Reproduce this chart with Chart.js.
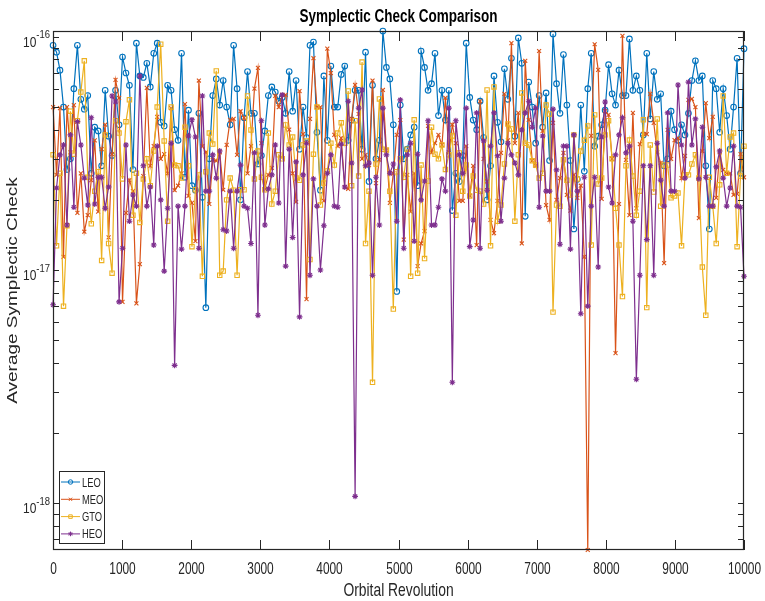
<!DOCTYPE html>
<html>
<head>
<meta charset="utf-8">
<title>Symplectic Check Comparison</title>
<script src="https://cdn.jsdelivr.net/npm/chart.js@4.4.1/dist/chart.umd.min.js"></script>
<style>
  html, body { margin: 0; padding: 0; background: #fff; }
  canvas { display: block; }
</style>
</head>
<body>
<canvas id="symplecticChart" width="765" height="601"></canvas>
<script>
// average symplectic check per orbit, stored in units of 1e-17
const UNIT = 1e-17;

const leo = [
  9.2, 8.6, 7.2, 5.0, 2.7, 3.0, 6.0, 9.2, 5.4, 4.9,
  5.6, 2.6, 4.1, 3.95, 2.8, 5.9, 3.75, 3.1, 5.9, 4.2,
  8.2, 7.0, 6.2, 2.7, 9.4, 6.8, 6.7, 7.7, 6.1, 8.5,
  9.4, 4.3, 4.15, 6.2, 5.9, 4.0, 3.6, 8.5, 2.5, 4.85,
  2.3, 2.2, 4.7, 2.05, 0.69, 3.0, 5.6, 6.6, 5.1, 6.5,
  5.0, 4.2, 9.2, 6.0, 2.0, 4.5, 7.1, 4.7, 4.7, 2.85,
  3.1, 3.95, 5.6, 6.1, 5.8, 5.3, 5.5, 4.7, 7.1, 4.8,
  6.5, 3.3, 5.0, 3.7, 9.2, 9.5, 3.9, 2.2, 6.8, 3.6,
  7.5, 5.0, 5.0, 6.9, 7.5, 3.6, 4.4, 5.9, 5.9, 3.3,
  8.6, 2.4, 6.2, 3.0, 3.6, 10.6, 7.4, 6.6, 4.2, 0.81,
  5.1, 3.0, 3.3, 3.8, 4.1, 2.3, 8.7, 7.4, 5.9, 6.3,
  8.5, 4.6, 5.9, 4.4, 5.9, 1.8, 2.6, 2.4, 3.1, 9.4,
  5.5, 4.4, 4.0, 5.3, 3.7, 2.0, 2.8, 6.8, 4.3, 3.55,
  7.3, 5.4, 8.1, 3.75, 9.9, 7.7, 1.7, 6.4, 5.0, 3.5,
  5.6, 4.1, 5.75, 2.95, 10.3, 6.3, 4.7, 8.4, 5.1, 2.95,
  1.5, 2.45, 5.1, 2.65, 6.0, 8.5, 3.4, 3.75, 4.2, 4.85,
  7.6, 5.7, 5.1, 7.2, 5.6, 5.6, 9.8, 5.9, 6.8, 5.9,
  3.8, 8.5, 4.45, 7.1, 5.4, 5.7, 2.8, 3.0, 4.8, 4.0,
  3.6, 4.2, 3.8, 4.7, 6.5, 7.9, 6.5, 6.8, 2.8, 1.5,
  6.5, 6.0, 3.9, 6.0, 4.6, 3.3, 5.0, 8.1, 2.6, 8.9
];

const meo = [
  5.0, 2.56, 4.95, 1.14, 5.0, 3.2, 5.1, 1.76, 2.6, 1.46,
  1.72, 2.43, 3.6, 1.78, 3.3, 4.2, 1.38, 3.14, 6.54, 5.47,
  0.73, 1.76, 2.43, 2.18, 0.72, 1.06, 2.53, 6.05, 2.8, 3.4,
  4.54, 3.0, 3.14, 2.6, 4.95, 2.2, 2.3, 2.6, 5.15, 2.08,
  1.94, 1.33, 6.5, 3.4, 3.2, 1.92, 2.97, 2.94, 3.2, 2.21,
  3.44, 4.41, 4.45, 3.12, 4.8, 4.5, 2.6, 3.4, 6.0, 7.36,
  3.5, 2.23, 2.56, 2.74, 5.58, 5.0, 5.64, 5.64, 4.0, 2.6,
  1.96, 5.86, 3.83, 0.75, 4.45, 8.1, 5.0, 5.0, 1.98, 8.9,
  7.0, 3.8, 3.4, 3.68, 2.27, 2.23, 4.45, 6.22, 4.67, 3.0,
  3.12, 2.82, 6.5, 2.36, 2.97, 5.92, 3.27, 1.94, 2.6, 3.8,
  4.4, 1.35, 2.56, 1.78, 2.6, 1.04, 1.3, 1.47, 4.15, 3.2,
  3.5, 3.8, 3.44, 5.47, 3.2, 4.2, 3.5, 1.98, 1.98, 3.4,
  2.08, 2.8, 1.28, 5.3, 3.0, 2.4, 1.64, 1.44, 1.98, 3.18,
  5.7, 3.6, 9.4, 3.5, 4.72, 1.3, 7.9, 4.41, 2.94, 2.8,
  8.7, 3.95, 1.9, 1.64, 4.28, 2.0, 2.48, 3.18, 2.1, 1.8,
  2.56, 2.04, 2.3, 1.14, 0.063, 3.76, 9.3, 7.22, 2.02, 4.8,
  4.63, 3.0, 0.44, 1.92, 10.1, 2.97, 1.72, 4.72, 1.84, 3.47,
  3.83, 3.83, 5.7, 4.28, 3.2, 2.88, 1.07, 3.99, 3.0, 3.61,
  3.68, 2.48, 3.09, 5.37, 5.42, 5.0, 1.67, 3.24, 5.2, 3.68,
  4.54, 2.04, 3.2, 2.69, 2.6, 2.6, 2.1, 2.12, 3.14, 2.5
];

const gto = [
  3.12, 1.27, 2.6, 0.70, 1.55, 4.8, 3.14, 4.37, 5.8, 7.9,
  2.5, 1.58, 2.18, 2.64, 1.1, 3.8, 1.3, 0.97, 4.37, 3.87,
  2.46, 4.33, 5.37, 1.72, 2.6, 1.6, 2.46, 3.0, 2.3, 3.24,
  5.0, 9.3, 3.58, 1.62, 5.0, 2.82, 2.8, 2.48, 4.1, 2.8,
  1.26, 2.21, 2.56, 0.94, 2.64, 3.87, 3.47, 7.15, 0.95, 0.99,
  2.0, 2.48, 2.2, 0.95, 2.21, 2.21, 5.58, 3.99, 2.46, 3.24,
  2.5, 2.21, 3.87, 1.92, 2.18, 3.12, 3.0, 4.19, 3.44, 3.72,
  2.48, 2.43, 3.44, 3.58, 1.11, 3.14, 5.0, 1.9, 2.36, 2.66,
  3.5, 2.82, 3.87, 4.28, 3.5, 5.86, 2.3, 4.37, 2.53, 7.8,
  1.3, 2.18, 0.33, 2.85, 5.42, 3.3, 3.27, 2.18, 0.68, 2.64,
  3.0, 2.5, 3.3, 0.94, 4.41, 0.97, 2.82, 1.12, 2.41, 4.1,
  3.14, 3.0, 3.44, 2.7, 3.12, 3.76, 1.72, 3.18, 2.18, 2.82,
  2.08, 2.53, 2.2, 2.18, 1.92, 5.92, 1.27, 6.1, 1.62, 1.9,
  2.85, 4.23, 4.03, 1.62, 3.12, 5.75, 3.5, 3.44, 2.94, 2.82,
  2.48, 2.6, 5.1, 4.67, 0.66, 1.9, 1.88, 2.97, 2.43, 2.1,
  3.8, 2.46, 3.24, 3.6, 4.15, 1.28, 4.63, 2.34, 2.48, 3.8,
  4.37, 3.0, 1.84, 1.28, 0.77, 2.8, 3.61, 2.53, 1.72, 2.18,
  4.41, 0.69, 3.44, 2.16, 4.45, 1.88, 2.82, 2.82, 2.04, 2.08,
  2.14, 1.27, 2.56, 2.56, 2.85, 3.12, 2.48, 1.03, 0.64, 2.5,
  1.88, 1.3, 2.32, 5.58, 2.6, 3.72, 3.87, 1.26, 2.53, 3.4
];

const heo = [
  0.71, 2.25, 3.12, 3.44, 1.56, 3.8, 1.86, 4.33, 3.44, 2.48,
  1.9, 4.5, 1.92, 2.5, 2.5, 1.84, 2.27, 5.58, 5.26, 0.73,
  1.24, 3.44, 1.62, 2.1, 1.88, 6.8, 2.8, 1.88, 2.27, 1.28,
  3.4, 2.0, 0.99, 1.84, 3.5, 0.39, 1.88, 1.23, 1.88, 3.76,
  4.41, 3.72, 1.24, 5.58, 2.18, 2.18, 3.12, 2.48, 3.24, 1.49,
  1.47, 2.18, 1.24, 2.18, 2.82, 1.88, 1.84, 1.3, 3.18, 0.64,
  4.37, 1.56, 2.23, 2.56, 3.44, 1.94, 5.64, 1.04, 3.3, 1.38,
  2.91, 0.63, 2.56, 3.5, 0.95, 2.46, 1.88, 1.0, 1.55, 2.6,
  3.12, 1.88, 1.86, 3.47, 2.27, 5.3, 2.88, 0.107, 4.95, 5.92,
  2.8, 2.88, 0.95, 2.5, 1.56, 4.95, 3.12, 2.6, 2.85, 1.62,
  5.37, 1.24, 3.12, 3.5, 1.33, 3.14, 2.0, 2.41, 4.37, 1.56,
  1.56, 1.86, 2.46, 2.18, 4.95, 0.33, 4.37, 3.12, 2.6, 4.95,
  1.26, 1.64, 4.72, 1.24, 3.58, 2.2, 3.4, 4.72, 3.09, 1.62,
  2.48, 3.5, 3.12, 2.88, 2.56, 3.99, 4.72, 5.3, 4.1, 4.95,
  1.86, 3.76, 2.18, 2.18, 4.9, 2.69, 1.29, 3.4, 3.4, 1.23,
  3.8, 2.18, 0.65, 2.5, 0.70, 1.88, 2.5, 1.03, 3.72, 5.26,
  2.27, 1.94, 3.12, 3.8, 4.5, 3.18, 3.4, 1.62, 0.34, 0.95,
  2.8, 1.35, 2.8, 0.95, 3.5, 2.43, 1.88, 4.72, 2.18, 2.18,
  6.22, 3.44, 2.48, 6.4, 3.44, 4.45, 2.46, 4.1, 2.5, 1.88,
  1.88, 2.77, 3.24, 2.48, 1.88, 2.25, 3.4, 1.88, 1.86, 0.94
];

// 200 sampled revolutions between 1 and 10000
const revolutions = leo.map((_, i) => Math.round(1 + i * 9999 / (leo.length - 1)));

const seriesNames = ['LEO', 'MEO', 'GTO', 'HEO'];
const seriesValues = [leo, meo, gto, heo];
const seriesColors = ['#0072BD', '#D95319', '#EDB120', '#7E2F8E'];
const seriesMarkers = ['circle', 'crossRot', 'rect', 'star'];
const markerSizes = [2.8, 2.8, 3.1, 2.9];

const xTicks = [0, 1000, 2000, 3000, 4000, 5000, 6000, 7000, 8000, 9000, 10000];
const yDecades = [-18, -17, -16];

const FONT = '"Liberation Sans", Arial, Helvetica, sans-serif';
const INK = '#262626';
// the figure's lettering is narrow; text is squeezed sideways by this much
const TEXT_SQUEEZE = 0.73;

const allValues = [].concat(...seriesValues);
const yMin = Math.min(...allValues) * UNIT;
const yMax = Math.max(...allValues) * UNIT;

const datasets = seriesNames.map((name, s) => ({
  label: name,
  data: seriesValues[s].map((v, i) => ({ x: revolutions[i], y: v * UNIT })),
  borderColor: seriesColors[s],
  backgroundColor: 'rgba(0,0,0,0)',
  borderWidth: 1.2,
  pointStyle: seriesMarkers[s],
  pointRadius: markerSizes[s],
  pointBorderWidth: 1.1,
  pointBorderColor: seriesColors[s],
  pointBackgroundColor: 'rgba(0,0,0,0)',
  tension: 0,
  clip: false,
  // later series sit on top, like successive plot calls
  order: seriesNames.length - s
}));

function strokeLine(ctx, x1, y1, x2, y2) {
  ctx.beginPath();
  ctx.moveTo(x1, y1);
  ctx.lineTo(x2, y2);
  ctx.stroke();
}

// fillText with a horizontal squeeze; returns the drawn width
function narrowText(ctx, text, x, y, font, sx, align) {
  ctx.save();
  ctx.font = font;
  const w = ctx.measureText(text).width * sx;
  let left = x;
  if (align === 'center') left = x - w / 2;
  if (align === 'right') left = x - w;
  ctx.textAlign = 'left';
  ctx.translate(left, y);
  ctx.scale(sx, 1);
  ctx.fillText(text, 0, 0);
  ctx.restore();
  return w;
}

function textWidth(ctx, text, font, sx) {
  ctx.save();
  ctx.font = font;
  const w = ctx.measureText(text).width * sx;
  ctx.restore();
  return w;
}

// box, inward ticks, labels, titles and the legend
const axesFrame = {
  id: 'axesFrame',
  afterDraw(chart) {
    const { ctx, chartArea: a, scales: { x, y } } = chart;
    ctx.save();
    ctx.strokeStyle = INK;
    ctx.fillStyle = INK;
    ctx.lineWidth = 1;
    ctx.textBaseline = 'alphabetic';

    // x ticks on bottom and top edges
    const tickFont = `17px ${FONT}`;
    xTicks.forEach(v => {
      const px = Math.round(x.getPixelForValue(v)) + 0.5;
      strokeLine(ctx, px, a.bottom, px, a.bottom - 10);
      strokeLine(ctx, px, a.top, px, a.top + 10);
      narrowText(ctx, String(v), px, a.bottom + 24, tickFont, 0.7, 'center');
    });

    // log ticks: decades and 2..9 in between
    for (let d = yDecades[0] - 1; d <= yDecades[yDecades.length - 1]; d++) {
      for (let m = 1; m <= 9; m++) {
        const v = m * Math.pow(10, d);
        if (v < yMin || v > yMax) continue;
        const py = Math.round(y.getPixelForValue(v)) + 0.5;
        strokeLine(ctx, a.left, py, a.left + 6, py);
        strokeLine(ctx, a.right, py, a.right - 6, py);
      }
    }

    // decade labels as 10 with a raised exponent
    const baseFont = `15px ${FONT}`;
    const expFont = `10.5px ${FONT}`;
    yDecades.forEach(d => {
      const py = y.getPixelForValue(Math.pow(10, d));
      const exp = String(d);
      const right = a.left - 3;
      const expW = textWidth(ctx, exp, expFont, 0.9);
      const baseW = textWidth(ctx, '10', baseFont, 0.8);
      narrowText(ctx, '10', right - expW - baseW, py + 10, baseFont, 0.8, 'left');
      narrowText(ctx, exp, right - expW, py + 1.5, expFont, 0.9, 'left');
    });

    // axes box
    ctx.lineWidth = 1.2;
    ctx.strokeRect(a.left + 0.5, a.top + 0.5, a.right - a.left - 1, a.bottom - a.top - 1);

    // titles
    const cx = (a.left + a.right) / 2;
    ctx.fillStyle = '#000';
    narrowText(ctx, 'Symplectic Check Comparison', cx, 22, `bold 18px ${FONT}`, 0.75, 'center');
    ctx.fillStyle = INK;
    narrowText(ctx, 'Orbital Revolution', cx, a.bottom + 46, `19px ${FONT}`, TEXT_SQUEEZE, 'center');
    ctx.save();
    ctx.translate(17, (a.top + a.bottom) / 2);
    ctx.rotate(-Math.PI / 2);
    ctx.scale(1, TEXT_SQUEEZE);
    ctx.font = `19px ${FONT}`;
    ctx.textAlign = 'center';
    ctx.fillText('Average Symplectic Check', 0, 0);
    ctx.restore();

    // legend in the lower left corner
    const lx = a.left + 6, ly = a.bottom - 79, lw = 45, lh = 72;
    ctx.fillStyle = '#fff';
    ctx.fillRect(lx, ly, lw, lh);
    ctx.lineWidth = 1;
    ctx.strokeStyle = INK;
    ctx.strokeRect(lx + 0.5, ly + 0.5, lw, lh);
    seriesNames.forEach((name, s) => {
      const rowY = ly + 11 + s * 17.3;
      ctx.strokeStyle = seriesColors[s];
      ctx.fillStyle = 'rgba(0,0,0,0)';
      ctx.lineWidth = 1;
      strokeLine(ctx, lx + 2, rowY, lx + 21, rowY);
      Chart.helpers.drawPoint(ctx, {
        pointStyle: seriesMarkers[s],
        radius: markerSizes[s] * 0.8,
        borderWidth: 1,
        rotation: 0
      }, lx + 11.5, rowY);
      ctx.fillStyle = INK;
      narrowText(ctx, name, lx + 23, rowY + 4.5, `12px ${FONT}`, 0.78, 'left');
    });
    ctx.restore();
  }
};

new Chart(document.getElementById('symplecticChart'), {
  type: 'line',
  data: { datasets },
  options: {
    responsive: false,
    animation: false,
    devicePixelRatio: 1,
    layout: { padding: { left: 53, right: 21, top: 31, bottom: 51 } },
    plugins: { legend: { display: false }, tooltip: { enabled: false } },
    scales: {
      x: { type: 'linear', display: false, min: 0, max: 10000 },
      y: { type: 'logarithmic', display: false, min: yMin, max: yMax }
    }
  },
  plugins: [axesFrame]
});
</script>
</body>
</html>
